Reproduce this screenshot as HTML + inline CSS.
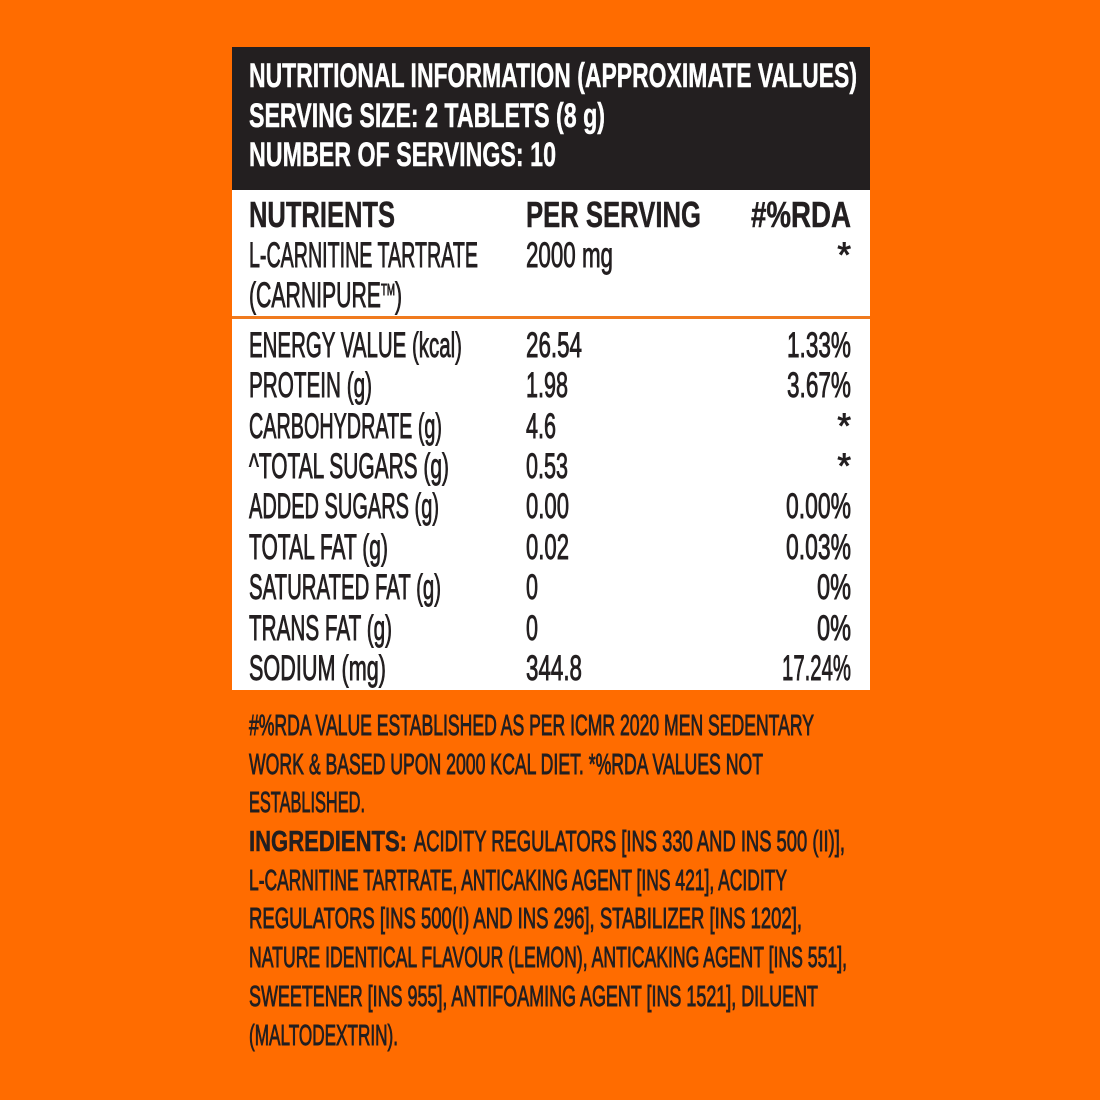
<!DOCTYPE html>
<html><head><meta charset="utf-8"><style>
html,body{margin:0;padding:0;background:#FF6C00;}
svg{display:block}
text{font-family:"Liberation Sans Narrow","Liberation Sans",sans-serif;}
.h{fill:#fff;font-weight:bold;font-size:34px;stroke:#fff;stroke-width:0.5px}
.b{fill:#231F20;font-size:35px;stroke:#231F20;stroke-width:0.9px}
.bb{fill:#231F20;font-size:36px;font-weight:bold;stroke:#231F20;stroke-width:0.5px}
.f{fill:#231F20;font-size:29px;stroke:#231F20;stroke-width:0.9px}
.fb{fill:#231F20;font-size:29px;font-weight:bold;stroke:#231F20;stroke-width:0.5px}
</style></head><body>
<svg width="1100" height="1100" viewBox="0 0 1100 1100" xmlns="http://www.w3.org/2000/svg">
<rect width="1100" height="1100" fill="#FF6C00"/>
<rect x="232" y="47" width="638" height="143" fill="#231F20"/>
<rect x="232" y="190" width="638" height="500" fill="#fff"/>
<rect x="232" y="316" width="638" height="3" fill="#F07A1E"/>
<g>
<text class="h" x="249" y="87" textLength="608" lengthAdjust="spacingAndGlyphs">NUTRITIONAL INFORMATION (APPROXIMATE VALUES)</text>
<text class="h" x="249" y="127" textLength="356" lengthAdjust="spacingAndGlyphs">SERVING SIZE: 2 TABLETS (8 g)</text>
<text class="h" x="249" y="166" textLength="307" lengthAdjust="spacingAndGlyphs">NUMBER OF SERVINGS: 10</text>

<text class="bb" x="249" y="227" textLength="146" lengthAdjust="spacingAndGlyphs">NUTRIENTS</text>
<text class="bb" x="526" y="227" textLength="175" lengthAdjust="spacingAndGlyphs">PER SERVING</text>
<text class="bb" x="851" y="227" text-anchor="end" textLength="100" lengthAdjust="spacingAndGlyphs">#%RDA</text>
<text class="b" x="249" y="267" textLength="229" lengthAdjust="spacingAndGlyphs">L-CARNITINE TARTRATE</text>
<text class="b" x="526" y="267" textLength="87" lengthAdjust="spacingAndGlyphs">2000 mg</text>
<text class="b" x="851" y="267" text-anchor="end">*</text>
<text class="b" x="249" y="307" textLength="153" lengthAdjust="spacingAndGlyphs">(CARNIPURE<tspan font-size="16" dy="-12">TM</tspan><tspan dy="12">)</tspan></text>

<text class="b" x="249" y="357" textLength="213" lengthAdjust="spacingAndGlyphs">ENERGY VALUE (kcal)</text>
<text class="b" x="526" y="357" textLength="56" lengthAdjust="spacingAndGlyphs">26.54</text>
<text class="b" x="851" y="357" text-anchor="end" textLength="64" lengthAdjust="spacingAndGlyphs">1.33%</text>

<text class="b" x="249" y="397" textLength="123" lengthAdjust="spacingAndGlyphs">PROTEIN (g)</text>
<text class="b" x="526" y="397" textLength="42" lengthAdjust="spacingAndGlyphs">1.98</text>
<text class="b" x="851" y="397" text-anchor="end" textLength="64" lengthAdjust="spacingAndGlyphs">3.67%</text>

<text class="b" x="249" y="438" textLength="193" lengthAdjust="spacingAndGlyphs">CARBOHYDRATE (g)</text>
<text class="b" x="526" y="438" textLength="30" lengthAdjust="spacingAndGlyphs">4.6</text>
<text class="b" x="851" y="438" text-anchor="end">*</text>

<text class="b" x="249" y="478" textLength="200" lengthAdjust="spacingAndGlyphs">^TOTAL SUGARS (g)</text>
<text class="b" x="526" y="478" textLength="42" lengthAdjust="spacingAndGlyphs">0.53</text>
<text class="b" x="851" y="478" text-anchor="end">*</text>

<text class="b" x="249" y="518" textLength="190" lengthAdjust="spacingAndGlyphs">ADDED SUGARS (g)</text>
<text class="b" x="526" y="518" textLength="43" lengthAdjust="spacingAndGlyphs">0.00</text>
<text class="b" x="851" y="518" text-anchor="end" textLength="65" lengthAdjust="spacingAndGlyphs">0.00%</text>

<text class="b" x="249" y="559" textLength="139" lengthAdjust="spacingAndGlyphs">TOTAL FAT (g)</text>
<text class="b" x="526" y="559" textLength="43" lengthAdjust="spacingAndGlyphs">0.02</text>
<text class="b" x="851" y="559" text-anchor="end" textLength="65" lengthAdjust="spacingAndGlyphs">0.03%</text>

<text class="b" x="249" y="599" textLength="192" lengthAdjust="spacingAndGlyphs">SATURATED FAT (g)</text>
<text class="b" x="526" y="599" textLength="12" lengthAdjust="spacingAndGlyphs">0</text>
<text class="b" x="851" y="599" text-anchor="end" textLength="34" lengthAdjust="spacingAndGlyphs">0%</text>

<text class="b" x="249" y="640" textLength="143" lengthAdjust="spacingAndGlyphs">TRANS FAT (g)</text>
<text class="b" x="526" y="640" textLength="12" lengthAdjust="spacingAndGlyphs">0</text>
<text class="b" x="851" y="640" text-anchor="end" textLength="34" lengthAdjust="spacingAndGlyphs">0%</text>

<text class="b" x="249" y="680" textLength="137" lengthAdjust="spacingAndGlyphs">SODIUM (mg)</text>
<text class="b" x="526" y="680" textLength="56" lengthAdjust="spacingAndGlyphs">344.8</text>
<text class="b" x="851" y="680" text-anchor="end" textLength="69" lengthAdjust="spacingAndGlyphs">17.24%</text>

<text class="f" x="249" y="735" textLength="565" lengthAdjust="spacingAndGlyphs">#%RDA VALUE ESTABLISHED AS PER ICMR 2020 MEN SEDENTARY</text>
<text class="f" x="249" y="774" textLength="514" lengthAdjust="spacingAndGlyphs">WORK &amp; BASED UPON 2000 KCAL DIET. *%RDA VALUES NOT</text>
<text class="f" x="249" y="812" textLength="116" lengthAdjust="spacingAndGlyphs">ESTABLISHED.</text>
<text class="fb" x="249" y="851" textLength="158" lengthAdjust="spacingAndGlyphs">INGREDIENTS:</text>
<text class="f" x="414" y="851" textLength="431" lengthAdjust="spacingAndGlyphs">ACIDITY REGULATORS [INS 330 AND INS 500 (II)],</text>
<text class="f" x="249" y="890" textLength="538" lengthAdjust="spacingAndGlyphs">L-CARNITINE TARTRATE, ANTICAKING AGENT [INS 421], ACIDITY</text>
<text class="f" x="249" y="928" textLength="553" lengthAdjust="spacingAndGlyphs">REGULATORS [INS 500(I) AND INS 296], STABILIZER [INS 1202],</text>
<text class="f" x="249" y="967" textLength="598" lengthAdjust="spacingAndGlyphs">NATURE IDENTICAL FLAVOUR (LEMON), ANTICAKING AGENT [INS 551],</text>
<text class="f" x="249" y="1006" textLength="569" lengthAdjust="spacingAndGlyphs">SWEETENER [INS 955], ANTIFOAMING AGENT [INS 1521], DILUENT</text>
<text class="f" x="249" y="1045" textLength="149" lengthAdjust="spacingAndGlyphs">(MALTODEXTRIN).</text>
</g>
</svg>
</body></html>
